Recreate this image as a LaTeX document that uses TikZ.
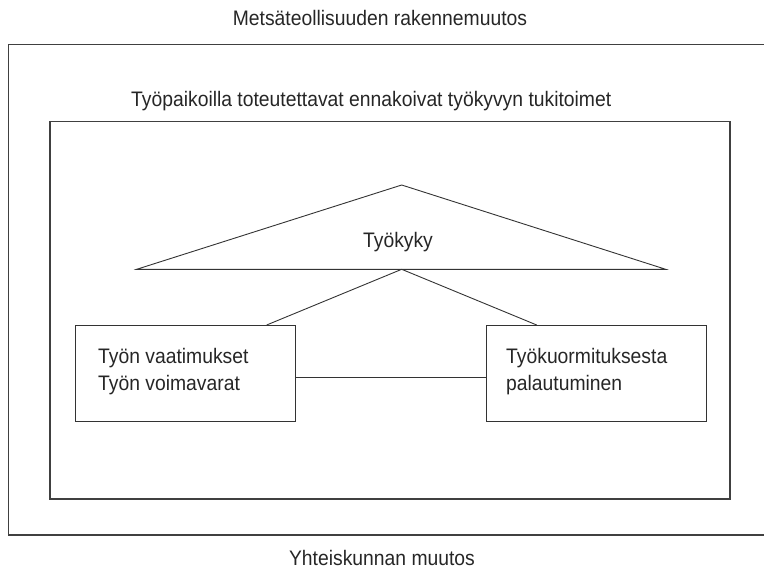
\documentclass[tikz,border=0pt]{standalone}
\usepackage{fontspec}
\setmainfont{Liberation Sans}[FakeStretch=0.92]
\begin{document}
\begin{tikzpicture}[x=1pt,y=-1pt,
  line/.style={draw=black!80,line width=0.9pt},
  frame/.style={draw=black!75,line width=1.1pt},
  lbl/.style={inner sep=0pt,font=\fontsize{21}{24}\selectfont,text=black!85},
  box/.style={draw=black!80,line width=0.9pt,minimum width=220pt,minimum height=96.7pt,inner sep=0pt}]
\useasboundingbox (0,0) rectangle (764,573);
% outer frame (open on the right)
\draw[frame] (764,44.3) -- (8.3,44.3) -- (8.3,535) -- (764,535);
% inner frame
\node[frame,minimum width=680pt,minimum height=377.3pt,inner sep=0pt] (inner) at (390,310.35) {};
% titles
\node[lbl,anchor=base] (t1) at (380,25) {Metsäteollisuuden rakennemuutos};
\node[lbl,anchor=base west] (t2) at (131,106) {Työpaikoilla toteutettavat ennakoivat työkyvyn tukitoimet};
\node[lbl,anchor=base] (t3) at (382,565) {Yhteiskunnan muutos};
% triangle
\coordinate (apex) at (401.7,185);
\coordinate (bl) at (136.7,269.3);
\coordinate (br) at (665.7,269.3);
\coordinate (bc) at (401.7,269.3);
\draw[line,line join=miter] (bl) -- (apex) -- (br) -- cycle;
\node[lbl,anchor=base] (tk) at (398,247) {Työkyky};
% boxes
\node[box] (lbox) at (185.85,373.35) {};
\node[box] (rbox) at (596.7,373.35) {};
\node[lbl,anchor=base west] (l1) at (98,363) {Työn vaatimukset};
\node[lbl,anchor=base west] (l2) at (98,390) {Työn voimavarat};
\node[lbl,anchor=base west] (r1) at (506,363) {Työkuormituksesta};
\node[lbl,anchor=base west] (r2) at (506,390) {palautuminen};
% connectors
\coordinate (lt) at (266.7,325);
\coordinate (rt) at (536.7,325);
\draw[line] (bc) -- (lt);
\draw[line] (bc) -- (rt);
\draw[line] (lbox.east |- 0,377.7) -- (rbox.west |- 0,377.7);
\end{tikzpicture}
\end{document}
